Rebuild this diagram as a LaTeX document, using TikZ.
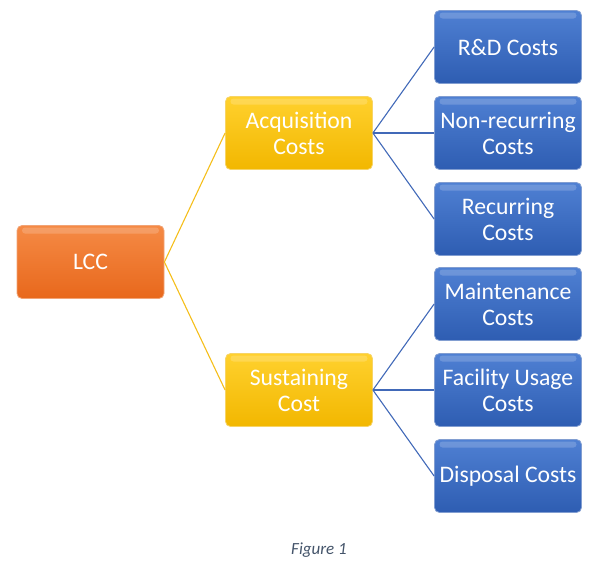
\documentclass[tikz,border=0pt]{standalone}
\usepackage{fontspec}
\setmainfont{Carlito}
\begin{document}
\begin{tikzpicture}[x=1pt,y=-1pt,
  box/.style={rectangle, rounded corners=5pt, minimum width=147pt, minimum height=73pt,
    inner sep=0pt, align=center, text=white, font=\fontsize{23.7}{26}\selectfont,
    draw=#1!60!white, line width=0.8pt,
    path picture={\fill[white,opacity=0.18,rounded corners=3pt]
      ([xshift=5pt,yshift=-2pt]path picture bounding box.north west) rectangle
      ([xshift=-5pt,yshift=-8pt]path picture bounding box.north east);}},
  obox/.style={box=orgB, top color=orgT, bottom color=orgB},
  ybox/.style={box=yelB, top color=yelT, bottom color=yelB},
  bbox/.style={box=bluB, top color=bluT, bottom color=bluB},
  yline/.style={draw=yelL, line width=1.1pt},
  bline/.style={draw=bluL, line width=1.1pt}]
\definecolor{orgT}{HTML}{F58A45}
\definecolor{orgB}{HTML}{E8681C}
\definecolor{yelT}{HTML}{FFD12E}
\definecolor{yelB}{HTML}{F2B700}
\definecolor{bluT}{HTML}{4F80D3}
\definecolor{bluB}{HTML}{2E5DB2}
\definecolor{yelL}{HTML}{F5BE1A}
\definecolor{bluL}{HTML}{4169B8}
\definecolor{capc}{HTML}{44546A}
\useasboundingbox (0,0) rectangle (596,568);
\node[obox] (lcc) at (90.5,262) {LCC};
\node[ybox] (acq) at (299,133) {Acquisition\\Costs};
\node[ybox] (sus) at (299,390) {Sustaining\\Cost};
\node[bbox] (rd) at (508,47) {R\&D Costs};
\node[bbox] (nrc) at (508,133) {Non-recurring\\Costs};
\node[bbox] (rc) at (508,219) {Recurring\\Costs};
\node[bbox] (mc) at (508,304) {Maintenance\\Costs};
\node[bbox] (fuc) at (508,390) {Facility Usage\\Costs};
\node[bbox] (dc) at (508,476) {Disposal Costs};
\draw[yline] (lcc.east) -- (acq.west);
\draw[yline] (lcc.east) -- (sus.west);
\foreach \t in {rd,nrc,rc} \draw[bline] (acq.east) -- (\t.west);
\foreach \t in {mc,fuc,dc} \draw[bline] (sus.east) -- (\t.west);
\node[text=capc, font=\fontsize{17}{19}\selectfont\itshape] (cap) at (319,550) {Figure 1};
\end{tikzpicture}
\end{document}
